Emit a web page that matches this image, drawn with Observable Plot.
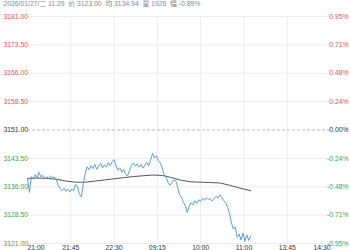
<!DOCTYPE html>
<html><head><meta charset="utf-8">
<script src="https://cdn.jsdelivr.net/npm/d3@7"></script>
<script src="https://cdn.jsdelivr.net/npm/@observablehq/plot@0.6"></script>
<style>
body{margin:0;background:#fff;}
svg{font-family:"Liberation Sans",Arial,"Noto Sans CJK SC",sans-serif;}
</style>
</head><body><div id="chart"></div>
<script>
const title = "2026/01/27/二 11:29  价 3123.00  均 3134.94  量 1926  幅 -0.89%";
const baseline = 3151;
const priceTicks = [3181, 3173.5, 3166, 3158.5, 3151, 3143.5, 3136, 3128.5, 3121];
const pctLabels = ["0.95%","0.71%","0.48%","0.24%","0.00%","-0.24%","-0.48%","-0.71%","-0.95%"];
const timeTicks = [0, 45, 90, 135, 180, 225, 270, 315];
const timeLabels = ["21:00","21:45","22:30","09:15","10:00","11:00","13:45","14:30"];

// price every 2 trading minutes from 21:00
const prices = [
  3138.2,3134.5,3138.7,3138.0,3139.2,3138.4,3139.8,3138.6,3139.0,3138.0,
  3138.7,3138.2,3138.9,3138.3,3138.6,3137.9,3136.3,3135.5,3135.0,3135.6,
  3134.8,3135.3,3134.6,3135.4,3135.0,3136.6,3136.0,3134.0,3133.4,3136.8,
  3139.5,3141.3,3140.5,3141.6,3140.8,3141.9,3140.6,3141.4,3142.2,3141.0,
  3141.8,3141.2,3142.4,3141.6,3142.6,3143.2,3141.5,3140.4,3141.0,3139.8,
  3140.6,3139.2,3138.9,3140.2,3141.6,3142.3,3141.5,3142.0,3141.2,3141.9,
  3140.9,3141.7,3142.4,3141.5,3143.0,3144.8,3143.6,3144.2,3142.9,3142.3,
  3141.0,3139.3,3138.7,3137.2,3136.4,3137.0,3137.8,3137.6,3136.0,3134.0,
  3133.2,3132.0,3131.0,3129.2,3130.8,3131.8,3131.2,3132.3,3131.6,3132.6,
  3132.1,3133.0,3132.4,3133.1,3132.6,3132.9,3132.2,3132.8,3133.5,3133.0,
  3133.9,3133.2,3132.3,3131.8,3130.6,3129.0,3126.5,3124.8,3125.4,3122.6,
  3123.5,3121.9,3123.8,3121.6,3123.3,3121.8,3123.0
];
const priceMinutes = prices.map((_, i) => i * 2);

const avgMinutes = [0,10,20,30,40,50,60,70,80,90,100,110,120,130,140,150,160,170,180,190,200,210,220,232];
const avgPrices  = [3138.2,3138.3,3138.2,3138.0,3137.5,3137.2,3137.2,3137.5,3137.8,3138.1,3138.4,3138.7,3138.9,3139.1,3139.0,3138.4,3137.7,3137.3,3137.2,3137.1,3137.0,3136.4,3135.7,3134.94];

const priceData = prices.map((p, i) => ({t: priceMinutes[i], p}));
const avgData = avgPrices.map((p, i) => ({t: avgMinutes[i], p}));

const RED = "#e5534b", GREEN = "#3f9f3f", ZERO = "#333";
const labelColor = d => d > baseline ? RED : d < baseline ? GREEN : ZERO;
const fs = 6.8;

const last = timeTicks.length - 1;
const chart = Plot.plot({
  width: 350, height: 250,
  marginTop: 16, marginBottom: 7, marginLeft: 27, marginRight: 20,
  x: {domain: [0, 315], axis: null},
  y: {domain: [3121, 3181], axis: null},
  color: {type: "identity"},
  marks: [
    Plot.ruleY(priceTicks.filter(d => d !== baseline), {stroke: "#ececec", strokeWidth: 1}),
    Plot.ruleX(timeTicks.slice(1, last), {stroke: "#ececec", strokeWidth: 1}),
    Plot.ruleY([baseline], {stroke: "#bbb", strokeDasharray: "3,2", strokeWidth: 1}),
    Plot.line(avgData, {x: "t", y: "p", stroke: "#555", strokeWidth: 1}),
    Plot.line(priceData, {x: "t", y: "p", stroke: "#5b9fd6", strokeWidth: 1}),
    Plot.text(priceTicks, {y: d => d, text: d => d.toFixed(2), frameAnchor: "left", dx: -24, textAnchor: "start", fill: labelColor, fontSize: fs}),
    Plot.text(priceTicks, {y: d => d, text: (d, i) => pctLabels[i], frameAnchor: "right", dx: 18, textAnchor: "end", fill: labelColor, fontSize: fs}),
    Plot.text([timeTicks[0]], {x: d => d, text: () => timeLabels[0], frameAnchor: "bottom", dy: 2, lineAnchor: "top", textAnchor: "start", fill: "#333", fontSize: fs}),
    Plot.text(timeTicks.slice(1, last), {x: d => d, text: (d, i) => timeLabels[i + 1], frameAnchor: "bottom", dy: 2, lineAnchor: "top", textAnchor: "middle", fill: "#333", fontSize: fs}),
    Plot.text([timeTicks[last]], {x: d => d, text: () => timeLabels[last], frameAnchor: "bottom", dy: 2, lineAnchor: "top", textAnchor: "end", fill: "#333", fontSize: fs}),
    Plot.text([title], {text: d => d, frameAnchor: "top-left", dx: -24, dy: -11, textAnchor: "start", lineAnchor: "bottom", fill: "#888", fontSize: fs})
  ]
});
document.getElementById("chart").appendChild(chart);
</script>
</body></html>
